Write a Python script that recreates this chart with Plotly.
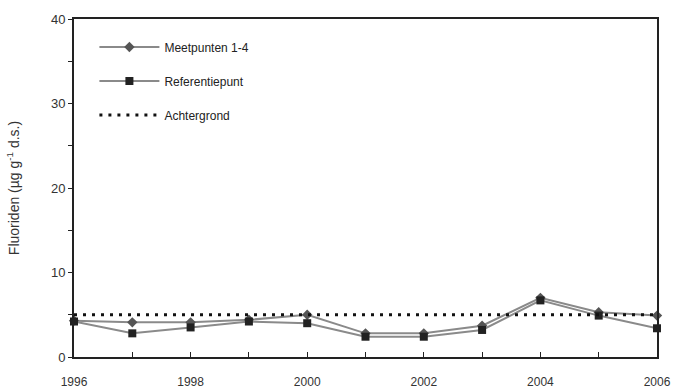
import plotly.graph_objects as go

years = [1996, 1997, 1998, 1999, 2000, 2001, 2002, 2003, 2004, 2005, 2006]
meetpunten = [4.3, 4.1, 4.1, 4.4, 5.0, 2.8, 2.8, 3.7, 7.0, 5.3, 4.9]
referentiepunt = [4.2, 2.8, 3.5, 4.2, 4.0, 2.4, 2.4, 3.2, 6.7, 4.9, 3.4]
achtergrond = [5.0] * len(years)
x_tick_vals = [1996, 1998, 2000, 2002, 2004, 2006]
y_tick_vals = [0, 10, 20, 30, 40]

font = "Liberation Sans, Arial, sans-serif"

fig = go.Figure()
fig.add_trace(go.Scatter(
    x=years, y=meetpunten, name="Meetpunten 1-4", mode="lines+markers",
    line=dict(color="#8a8a8a", width=2),
    marker=dict(symbol="diamond", size=8, color="#555555"),
    legendgroup="a", cliponaxis=False))
fig.add_trace(go.Scatter(
    x=years, y=referentiepunt, name="Referentiepunt", mode="lines+markers",
    line=dict(color="#8a8a8a", width=2),
    marker=dict(symbol="square", size=8, color="#222222"),
    legendgroup="b", cliponaxis=False))
fig.add_trace(go.Scatter(
    x=years, y=achtergrond, name="Achtergrond", mode="lines",
    line=dict(color="#111111", width=3, dash="3px,6px"),
    legendgroup="c"))

fig.update_layout(
    width=675, height=390,
    margin=dict(l=74, r=18, t=19, b=33),
    paper_bgcolor="white", plot_bgcolor="white",
    font=dict(family=font, size=13, color="#333333"),
    showlegend=True,
    legend=dict(x=0.035, y=0.96, xanchor="left", yanchor="top",
                bgcolor="rgba(0,0,0,0)", font=dict(size=12, color="#222222"),
                tracegroupgap=15, itemwidth=60, traceorder="grouped"),
    xaxis=dict(range=[1996, 2006], tickvals=x_tick_vals,
               ticks="inside", ticklen=5, tickcolor="#222",
               minor=dict(dtick=1, ticks="inside", ticklen=5, tickcolor="#222"),
               showline=True, linecolor="#222", linewidth=2, mirror=True,
               showgrid=False, zeroline=False, ticklabelstandoff=13,
               automargin=False, tickfont=dict(size=12)),
    yaxis=dict(range=[0, 40], tickvals=y_tick_vals,
               ticks="outside", ticklen=4, tickcolor="#222",
               minor=dict(dtick=5, ticks="outside", ticklen=4, tickcolor="#222"),
               showline=True, linecolor="#222", linewidth=2, mirror=True,
               showgrid=False, zeroline=False, automargin=False,
               tickfont=dict(size=13),
               title=dict(text="Fluoriden (µg g<sup>-1</sup> d.s.)",
                          font=dict(size=14), standoff=28)),
)

fig.write_html("out.html", config={"displayModeBar": False},
               post_script="document.body.style.margin='0';")
